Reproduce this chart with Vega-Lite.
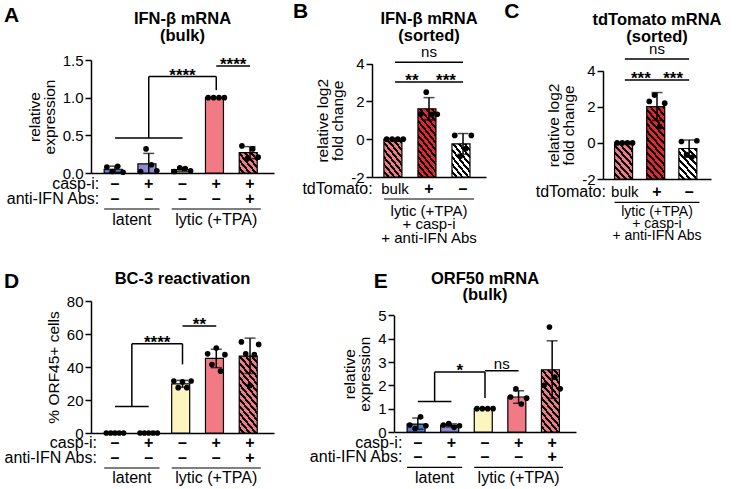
{
"$schema":"https://vega.github.io/schema/vega-lite/v6.json",
"background":"white",
"padding":{"left":3,"top":0,"right":0,"bottom":0},
"spacing":25,
"resolve":{"scale":{"xOffset":"independent","fill":"independent"}},
"datasets":{
"bars":[
{"p":"A","cond":"latent","m":0.05,"lo":0.009,"hi":0.091},
{"p":"A","cond":"latent+casp","m":0.12,"lo":0,"hi":0.26},
{"p":"A","cond":"lytic","m":0.045,"lo":0.02,"hi":0.07},
{"p":"A","cond":"lytic+casp","m":1.0,"lo":1.0,"hi":1.0},
{"p":"A","cond":"lytic+casp+IFNab","m":0.27,"lo":0.19,"hi":0.35},
{"p":"B","cond":"bulk","m":0,"lo":0,"hi":0},
{"p":"B","cond":"td+","m":1.61,"lo":1.02,"hi":2.2},
{"p":"B","cond":"td-","m":-0.25,"lo":-0.8,"hi":0.3},
{"p":"C","cond":"bulk","m":0,"lo":0,"hi":0},
{"p":"C","cond":"td+","m":2.01,"lo":1.24,"hi":2.79},
{"p":"C","cond":"td-","m":-0.31,"lo":-0.79,"hi":0.16},
{"p":"D","cond":"latent","m":0,"lo":0,"hi":0},
{"p":"D","cond":"latent+casp","m":0,"lo":0,"hi":0},
{"p":"D","cond":"lytic","m":29.8,"lo":27.7,"hi":31.9},
{"p":"D","cond":"lytic+casp","m":45.2,"lo":39.6,"hi":50.8},
{"p":"D","cond":"lytic+casp+IFNab","m":46.6,"lo":36.1,"hi":57.5},
{"p":"E","cond":"latent","m":0.34,"lo":0.12,"hi":0.6},
{"p":"E","cond":"latent+casp","m":0.28,"lo":0.22,"hi":0.35},
{"p":"E","cond":"lytic","m":1.0,"lo":1.0,"hi":1.0},
{"p":"E","cond":"lytic+casp","m":1.5,"lo":1.23,"hi":1.77},
{"p":"E","cond":"lytic+casp+IFNab","m":2.67,"lo":1.44,"hi":3.91}
],
"pts":[
{"p":"A","cond":"latent","r":1,"v":0.08},{"p":"A","cond":"latent","r":2,"v":0.02},{"p":"A","cond":"latent","r":3,"v":0.09},{"p":"A","cond":"latent","r":4,"v":0.01},
{"p":"A","cond":"latent+casp","r":1,"v":0.02},{"p":"A","cond":"latent+casp","r":2,"v":0.32},{"p":"A","cond":"latent+casp","r":3,"v":0.11},{"p":"A","cond":"latent+casp","r":4,"v":0.03},
{"p":"A","cond":"lytic","r":1,"v":0.02},{"p":"A","cond":"lytic","r":2,"v":0.07},{"p":"A","cond":"lytic","r":3,"v":0.06},{"p":"A","cond":"lytic","r":4,"v":0.03},
{"p":"A","cond":"lytic+casp","r":1,"v":1.0},{"p":"A","cond":"lytic+casp","r":2,"v":1.0},{"p":"A","cond":"lytic+casp","r":3,"v":1.0},{"p":"A","cond":"lytic+casp","r":4,"v":1.0},
{"p":"A","cond":"lytic+casp+IFNab","r":1,"v":0.36},{"p":"A","cond":"lytic+casp+IFNab","r":2,"v":0.19},{"p":"A","cond":"lytic+casp+IFNab","r":3,"v":0.32},{"p":"A","cond":"lytic+casp+IFNab","r":4,"v":0.21},
{"p":"B","cond":"bulk","r":1,"v":0},{"p":"B","cond":"bulk","r":2,"v":0},{"p":"B","cond":"bulk","r":3,"v":0},{"p":"B","cond":"bulk","r":4,"v":0},
{"p":"B","cond":"td+","r":1,"v":1.33},{"p":"B","cond":"td+","r":2,"v":2.49},{"p":"B","cond":"td+","r":3,"v":1.3},{"p":"B","cond":"td+","r":4,"v":1.32},
{"p":"B","cond":"td-","r":1,"v":0.2},{"p":"B","cond":"td-","r":2,"v":-0.9},{"p":"B","cond":"td-","r":3,"v":-0.5},{"p":"B","cond":"td-","r":4,"v":0.2},
{"p":"C","cond":"bulk","r":1,"v":0},{"p":"C","cond":"bulk","r":2,"v":0},{"p":"C","cond":"bulk","r":3,"v":0},{"p":"C","cond":"bulk","r":4,"v":0},
{"p":"C","cond":"td+","r":1,"v":2.3},{"p":"C","cond":"td+","r":2,"v":2.65},{"p":"C","cond":"td+","r":3,"v":0.9},{"p":"C","cond":"td+","r":4,"v":2.2},
{"p":"C","cond":"td-","r":1,"v":0.08},{"p":"C","cond":"td-","r":2,"v":-0.65},{"p":"C","cond":"td-","r":3,"v":-0.8},{"p":"C","cond":"td-","r":4,"v":0.12},
{"p":"D","cond":"latent","r":1,"v":0},{"p":"D","cond":"latent","r":2,"v":0},{"p":"D","cond":"latent","r":3,"v":0},{"p":"D","cond":"latent","r":4,"v":0},{"p":"D","cond":"latent","r":5,"v":0},
{"p":"D","cond":"latent+casp","r":1,"v":0},{"p":"D","cond":"latent+casp","r":2,"v":0},{"p":"D","cond":"latent+casp","r":3,"v":0},{"p":"D","cond":"latent+casp","r":4,"v":0},{"p":"D","cond":"latent+casp","r":5,"v":0},
{"p":"D","cond":"lytic","r":1,"v":31.5},{"p":"D","cond":"lytic","r":2,"v":27.5},{"p":"D","cond":"lytic","r":3,"v":31},{"p":"D","cond":"lytic","r":4,"v":27.5},{"p":"D","cond":"lytic","r":5,"v":31.5},
{"p":"D","cond":"lytic+casp","r":1,"v":48},{"p":"D","cond":"lytic+casp","r":2,"v":41.5},{"p":"D","cond":"lytic+casp","r":3,"v":51.5},{"p":"D","cond":"lytic+casp","r":4,"v":37.5},{"p":"D","cond":"lytic+casp","r":5,"v":47.5},
{"p":"D","cond":"lytic+casp+IFNab","r":1,"v":55.2},{"p":"D","cond":"lytic+casp+IFNab","r":2,"v":48},{"p":"D","cond":"lytic+casp+IFNab","r":3,"v":28.8},{"p":"D","cond":"lytic+casp+IFNab","r":4,"v":47.5},{"p":"D","cond":"lytic+casp+IFNab","r":5,"v":53.7},
{"p":"E","cond":"latent","r":1,"v":0.3},{"p":"E","cond":"latent","r":2,"v":0.15},{"p":"E","cond":"latent","r":3,"v":0.65},{"p":"E","cond":"latent","r":4,"v":0.27},
{"p":"E","cond":"latent+casp","r":1,"v":0.3},{"p":"E","cond":"latent+casp","r":2,"v":0.36},{"p":"E","cond":"latent+casp","r":3,"v":0.2},{"p":"E","cond":"latent+casp","r":4,"v":0.27},
{"p":"E","cond":"lytic","r":1,"v":1.0},{"p":"E","cond":"lytic","r":2,"v":1.0},{"p":"E","cond":"lytic","r":3,"v":1.0},{"p":"E","cond":"lytic","r":4,"v":1.0},
{"p":"E","cond":"lytic+casp","r":1,"v":1.5},{"p":"E","cond":"lytic+casp","r":2,"v":1.85},{"p":"E","cond":"lytic+casp","r":3,"v":1.2},{"p":"E","cond":"lytic+casp","r":4,"v":1.45},
{"p":"E","cond":"lytic+casp+IFNab","r":1,"v":2.0},{"p":"E","cond":"lytic+casp+IFNab","r":2,"v":4.5},{"p":"E","cond":"lytic+casp+IFNab","r":3,"v":2.35},{"p":"E","cond":"lytic+casp+IFNab","r":4,"v":1.85}
],
"sig":[
{"p":"A","k":"h","cond":"latent","cond2":"lytic","y":0.465},
{"p":"A","k":"h","cond":"latent+casp","cond2":"lytic+casp","y":1.28},
{"p":"A","k":"h","cond":"lytic+casp","cond2":"lytic+casp+IFNab","y":1.42},
{"p":"A","k":"v","cond":"latent+casp","y":0.465,"y2":1.28},
{"p":"A","k":"v","cond":"lytic+casp","y":1.1,"y2":1.28},
{"p":"B","k":"h","cond":"bulk","cond2":"td-","y":4.07},
{"p":"B","k":"h","cond":"bulk","cond2":"td+","y":3.03},
{"p":"B","k":"h","cond":"td+","cond2":"td-","y":3.03},
{"p":"C","k":"h","cond":"bulk","cond2":"td-","y":4.65},
{"p":"C","k":"h","cond":"bulk","cond2":"td+","y":3.48},
{"p":"C","k":"h","cond":"td+","cond2":"td-","y":3.48},
{"p":"D","k":"h","cond":"latent","cond2":"latent+casp","y":16.1},
{"p":"D","k":"h","cond":"lytic","cond2":"lytic+casp","y":64.8},
{"p":"D","k":"hh","cond":"latent","cond2":"lytic","y":54.1},
{"p":"D","k":"v","cond":"lytic","y":41.6,"y2":54.1},
{"p":"D","k":"vh","cond":"latent","y":16.1,"y2":54.1},
{"p":"E","k":"h","cond":"latent","cond2":"latent+casp","y":1.31},
{"p":"E","k":"h","cond":"lytic","cond2":"lytic+casp","y":2.63},
{"p":"E","k":"hh","cond":"latent","cond2":"lytic","y":2.57},
{"p":"E","k":"v","cond":"lytic","y":1.46,"y2":2.57},
{"p":"E","k":"vh","cond":"latent","y":1.31,"y2":2.57}
],
"st":[
{"p":"A","k":"sc","cond":"lytic","y":1.28,"s":"****"},
{"p":"A","k":"sh","cond":"lytic+casp","y":1.42,"s":"****"},
{"p":"B","k":"nc","cond":"td+","y":4.07,"s":"ns"},
{"p":"B","k":"sh","cond":"bulk","y":3.03,"s":"**"},
{"p":"B","k":"sh","cond":"td+","y":3.03,"s":"***"},
{"p":"C","k":"nc","cond":"td+","y":4.65,"s":"ns"},
{"p":"C","k":"sh","cond":"bulk","y":3.48,"s":"***"},
{"p":"C","k":"sh","cond":"td+","y":3.48,"s":"***"},
{"p":"D","k":"sq","cond":"latent+casp","y":54.1,"s":"****"},
{"p":"D","k":"sh","cond":"lytic","y":64.8,"s":"**"},
{"p":"E","k":"sq","cond":"latent+casp","y":2.57,"s":"*"},
{"p":"E","k":"nh","cond":"lytic","y":2.63,"s":"ns"}
],
"tbl":[
{"p":"A","cond":"latent","s":"–\n–"},{"p":"A","cond":"latent+casp","s":"+\n–"},{"p":"A","cond":"lytic","s":"–\n–"},{"p":"A","cond":"lytic+casp","s":"+\n–"},{"p":"A","cond":"lytic+casp+IFNab","s":"+\n+"},
{"p":"B","cond":"bulk","s":"bulk"},{"p":"B","cond":"td+","s":"+"},{"p":"B","cond":"td-","s":"–"},
{"p":"C","cond":"bulk","s":"bulk"},{"p":"C","cond":"td+","s":"+"},{"p":"C","cond":"td-","s":"–"},
{"p":"D","cond":"latent","s":"–\n–"},{"p":"D","cond":"latent+casp","s":"+\n–"},{"p":"D","cond":"lytic","s":"–\n–"},{"p":"D","cond":"lytic+casp","s":"+\n–"},{"p":"D","cond":"lytic+casp+IFNab","s":"+\n+"},
{"p":"E","cond":"latent","s":"–\n–"},{"p":"E","cond":"latent+casp","s":"+\n–"},{"p":"E","cond":"lytic","s":"–\n–"},{"p":"E","cond":"lytic+casp","s":"+\n–"},{"p":"E","cond":"lytic+casp+IFNab","s":"+\n+"}
],
"rl":[
{"p":"A","cond":"latent","s":"casp-i:\nanti-IFN Abs:"},
{"p":"B","cond":"bulk","s":"tdTomato:"},
{"p":"C","cond":"bulk","s":"tdTomato:"},
{"p":"D","cond":"latent","s":"casp-i:\nanti-IFN Abs:"},
{"p":"E","cond":"latent","s":"casp-i:\nanti-IFN Abs:"}
],
"grp":[
{"p":"A","k":"h","cond":"latent","cond2":"latent+casp","at":"latent","s":"latent"},
{"p":"A","k":"c","cond":"lytic","cond2":"lytic+casp+IFNab","at":"lytic+casp","s":"lytic (+TPA)"},
{"p":"B","k":"c","cond":"bulk","cond2":"td-","at":"td+","s":"lytic (+TPA)\n+ casp-i\n+ anti-IFN Abs"},
{"p":"C","k":"c","cond":"bulk","cond2":"td-","at":"td+","s":"lytic (+TPA)\n+ casp-i\n+ anti-IFN Abs"},
{"p":"D","k":"h","cond":"latent","cond2":"latent+casp","at":"latent","s":"latent"},
{"p":"D","k":"c","cond":"lytic","cond2":"lytic+casp+IFNab","at":"lytic+casp","s":"lytic (+TPA)"},
{"p":"E","k":"h","cond":"latent","cond2":"latent+casp","at":"latent","s":"latent"},
{"p":"E","k":"c","cond":"lytic","cond2":"lytic+casp+IFNab","at":"lytic+casp","s":"lytic (+TPA)"}
],
"ttl":[
{"p":"A","k":"L","cond":"latent","s":"A"},{"p":"A","k":"T","cond":"lytic","s":"IFN-β mRNA\n(bulk)"},
{"p":"B","k":"L","cond":"bulk","s":"B"},{"p":"B","k":"T","cond":"td+","s":"IFN-β mRNA\n(sorted)"},
{"p":"C","k":"L","cond":"bulk","s":"C"},{"p":"C","k":"T","cond":"td+","s":"tdTomato mRNA\n(sorted)"},
{"p":"D","k":"L","cond":"latent","s":"D"},{"p":"D","k":"T","cond":"lytic","s":"BC-3 reactivation"},
{"p":"E","k":"L","cond":"latent","s":"E"},{"p":"E","k":"T","cond":"lytic","s":"ORF50 mRNA\n(bulk)"}
]
},
"vconcat":[
{"hconcat":[
{"width":183,"height":113,"layer":[
{"data":{"name":"bars"},"transform":[{"filter":"datum.p=='A' && datum.m>0 && datum.cond!='lytic+casp+IFNab'"}],"mark":{"type":"bar","stroke":"#000","strokeWidth":1.2},
"encoding":{"x":{"field":"cond","type":"nominal","scale":{"domain":["latent","latent+casp","lytic","lytic+casp","lytic+casp+IFNab"],"paddingInner":0.36,"paddingOuter":0.39,"round":false},"axis":{"title":null,"labels":false,"ticks":false}},
"y":{"field":"m","type":"quantitative","scale":{"domain":[0,1.5],"nice":false,"zero":false},"axis":{"values":[0,0.5,1,1.5],"tickCount":20,"format":".1f","labelOverlap":false,"title":["relative","expression"]}},
"fill":{"field":"cond","type":"nominal","scale":{"domain":["latent","latent+casp","lytic","lytic+casp","lytic+casp+IFNab"],"range":["#5b79c7","#8f88d2","#fdf5c0","#f27a85","#f27a85"]},"legend":null}}},
{"data":{"name":"bars"},"transform":[{"filter":"datum.p=='A' && datum.cond=='lytic+casp+IFNab'"}],"mark":{"type":"bar","stroke":"#000","strokeWidth":1.2,"fill":{"gradient":"linear","x1":0,"y1":1,"x2":1.029,"y2":0.031,"stops":[
{"offset":0,"color":"#f07a86"},{"offset":0.0954,"color":"#f07a86"},{"offset":0.0954,"color":"#000"},{"offset":0.1716,"color":"#000"},{"offset":0.1716,"color":"#f07a86"},
{"offset":0.267,"color":"#f07a86"},{"offset":0.267,"color":"#000"},{"offset":0.3433,"color":"#000"},{"offset":0.3433,"color":"#f07a86"},
{"offset":0.4386,"color":"#f07a86"},{"offset":0.4386,"color":"#000"},{"offset":0.5149,"color":"#000"},{"offset":0.5149,"color":"#f07a86"},
{"offset":0.6103,"color":"#f07a86"},{"offset":0.6103,"color":"#000"},{"offset":0.6865,"color":"#000"},{"offset":0.6865,"color":"#f07a86"},
{"offset":0.7819,"color":"#f07a86"},{"offset":0.7819,"color":"#000"},{"offset":0.8582,"color":"#000"},{"offset":0.8582,"color":"#f07a86"},
{"offset":0.9535,"color":"#f07a86"},{"offset":0.9535,"color":"#000"},{"offset":1,"color":"#000"}]}},
"encoding":{"x":{"field":"cond","type":"nominal"},"y":{"field":"m","type":"quantitative"}}},
{"data":{"name":"bars"},"transform":[{"filter":"datum.p=='A' && datum.hi>datum.lo"}],"mark":{"type":"rule","color":"#000","strokeWidth":1.5},"encoding":{"x":{"field":"cond","type":"nominal"},"y":{"field":"lo","type":"quantitative"},"y2":{"field":"hi"}}},
{"data":{"name":"bars"},"transform":[{"filter":"datum.p=='A' && datum.hi>datum.lo"}],"mark":{"type":"tick","color":"#000","size":11,"thickness":1.5,"orient":"horizontal"},"encoding":{"x":{"field":"cond","type":"nominal"},"y":{"field":"hi","type":"quantitative"}}},
{"data":{"name":"bars"},"transform":[{"filter":"datum.p=='A' && datum.hi>datum.lo && datum.lo>0"}],"mark":{"type":"tick","color":"#000","size":11,"thickness":1.5,"orient":"horizontal"},"encoding":{"x":{"field":"cond","type":"nominal"},"y":{"field":"lo","type":"quantitative"}}},
{"data":{"name":"pts"},"transform":[{"filter":"datum.p=='A'"}],"mark":{"type":"circle","size":32,"color":"#000","opacity":1},"encoding":{"x":{"field":"cond","type":"nominal"},"xOffset":{"field":"r","type":"nominal"},"y":{"field":"v","type":"quantitative"}}},
{"data":{"name":"sig"},"transform":[{"filter":"datum.p=='A' && datum.k=='h'"}],"mark":{"type":"rule","color":"#000","strokeWidth":1.5},"encoding":{"x":{"field":"cond","type":"nominal"},"x2":{"field":"cond2"},"y":{"field":"y","type":"quantitative"}}},
{"data":{"name":"sig"},"transform":[{"filter":"datum.p=='A' && datum.k=='v'"}],"mark":{"type":"rule","color":"#000","strokeWidth":1.5},"encoding":{"x":{"field":"cond","type":"nominal"},"y":{"field":"y","type":"quantitative"},"y2":{"field":"y2"}}},
{"data":{"name":"st"},"transform":[{"filter":"datum.p=='A' && datum.k=='sc'"}],"mark":{"type":"text","fontSize":17,"fontWeight":"bold","baseline":"alphabetic","dy":4},"encoding":{"x":{"field":"cond","type":"nominal"},"y":{"field":"y","type":"quantitative"},"text":{"field":"s"}}},
{"data":{"name":"st"},"transform":[{"filter":"datum.p=='A' && datum.k=='sh'"}],"mark":{"type":"text","fontSize":17,"fontWeight":"bold","baseline":"alphabetic","dy":4,"dx":16.88},"encoding":{"x":{"field":"cond","type":"nominal"},"y":{"field":"y","type":"quantitative"},"text":{"field":"s"}}},
{"data":{"name":"tbl"},"transform":[{"filter":"datum.p=='A'"}],"mark":{"type":"text","fontSize":16,"fontWeight":"bold","baseline":"middle","lineBreak":"\n","lineHeight":15,"dy":11},"encoding":{"x":{"field":"cond","type":"nominal"},"y":{"datum":0},"text":{"field":"s"}}},
{"data":{"name":"rl"},"transform":[{"filter":"datum.p=='A'"}],"mark":{"type":"text","fontSize":16,"align":"right","baseline":"middle","lineBreak":"\n","lineHeight":15,"dy":11,"dx":-15.7},"encoding":{"x":{"field":"cond","type":"nominal"},"y":{"datum":0},"text":{"field":"s"}}},
{"data":{"name":"grp"},"transform":[{"filter":"datum.p=='A'"}],"mark":{"type":"rule","color":"#000","strokeWidth":1.2,"yOffset":36,"xOffset":-10.8,"x2Offset":10.8},"encoding":{"x":{"field":"cond","type":"nominal"},"x2":{"field":"cond2"},"y":{"datum":0}}},
{"data":{"name":"grp"},"transform":[{"filter":"datum.p=='A' && datum.k=='h'"}],"mark":{"type":"text","fontSize":16,"baseline":"middle","dy":47,"dx":16.88},"encoding":{"x":{"field":"at","type":"nominal"},"y":{"datum":0},"text":{"field":"s"}}},
{"data":{"name":"grp"},"transform":[{"filter":"datum.p=='A' && datum.k=='c'"}],"mark":{"type":"text","fontSize":16,"baseline":"middle","dy":47},"encoding":{"x":{"field":"at","type":"nominal"},"y":{"datum":0},"text":{"field":"s"}}},
{"data":{"name":"ttl"},"transform":[{"filter":"datum.p=='A' && datum.k=='L'"}],"mark":{"type":"text","fontSize":21,"fontWeight":"bold","align":"left","baseline":"alphabetic","dx":-111,"dy":-38.3},"encoding":{"x":{"field":"cond","type":"nominal"},"y":{"datum":1.5},"text":{"field":"s"}}},
{"data":{"name":"ttl"},"transform":[{"filter":"datum.p=='A' && datum.k=='T'"}],"mark":{"type":"text","fontSize":16.5,"fontWeight":"bold","baseline":"alphabetic","lineBreak":"\n","lineHeight":17,"dy":-36},"encoding":{"x":{"field":"cond","type":"nominal"},"y":{"datum":1.5},"text":{"field":"s"}}}
]},
{"width":114,"height":117,"layer":[
{"data":{"name":"bars"},"transform":[{"filter":"datum.p=='B' && datum.cond=='bulk'"}],"mark":{"type":"bar","stroke":"#000","strokeWidth":1.2,"fill":{"gradient":"linear","x1":0,"y1":1,"x2":0.693,"y2":-0.18,"stops":[
{"offset":0,"color":"#f07a86"},{"offset":0.0669,"color":"#f07a86"},{"offset":0.0669,"color":"#000"},{"offset":0.1204,"color":"#000"},{"offset":0.1204,"color":"#f07a86"},
{"offset":0.1873,"color":"#f07a86"},{"offset":0.1873,"color":"#000"},{"offset":0.2408,"color":"#000"},{"offset":0.2408,"color":"#f07a86"},
{"offset":0.3077,"color":"#f07a86"},{"offset":0.3077,"color":"#000"},{"offset":0.3613,"color":"#000"},{"offset":0.3613,"color":"#f07a86"},
{"offset":0.4282,"color":"#f07a86"},{"offset":0.4282,"color":"#000"},{"offset":0.4817,"color":"#000"},{"offset":0.4817,"color":"#f07a86"},
{"offset":0.5486,"color":"#f07a86"},{"offset":0.5486,"color":"#000"},{"offset":0.6021,"color":"#000"},{"offset":0.6021,"color":"#f07a86"},
{"offset":0.669,"color":"#f07a86"},{"offset":0.669,"color":"#000"},{"offset":0.7225,"color":"#000"},{"offset":0.7225,"color":"#f07a86"},
{"offset":0.7894,"color":"#f07a86"},{"offset":0.7894,"color":"#000"},{"offset":0.843,"color":"#000"},{"offset":0.843,"color":"#f07a86"},
{"offset":0.9098,"color":"#f07a86"},{"offset":0.9098,"color":"#000"},{"offset":0.9634,"color":"#000"},{"offset":0.9634,"color":"#f07a86"},{"offset":1,"color":"#f07a86"}]}},
"encoding":{"x":{"field":"cond","type":"nominal","scale":{"domain":["bulk","td+","td-"],"paddingInner":0.35,"paddingOuter":0.35,"round":false},"axis":{"title":null,"labels":false,"ticks":false}},
"y":{"field":"m","type":"quantitative","scale":{"domain":[-2,4],"nice":false,"zero":false,"range":[117,3.6]},"axis":{"values":[-2,0,2,4],"tickCount":20,"labelExpr":"'' + datum.value","labelOverlap":false,"title":["relative log2","fold change"]}},"y2":{"datum":-2}}},
{"data":{"name":"bars"},"transform":[{"filter":"datum.p=='B' && datum.cond=='td+'"}],"mark":{"type":"bar","stroke":"#000","strokeWidth":1.2,"fill":{"gradient":"linear","x1":0,"y1":1,"x2":0.39,"y2":-0.199,"stops":[
{"offset":0,"color":"#e5262c"},{"offset":0.0444,"color":"#e5262c"},{"offset":0.0444,"color":"#000"},{"offset":0.0799,"color":"#000"},{"offset":0.0799,"color":"#e5262c"},
{"offset":0.1243,"color":"#e5262c"},{"offset":0.1243,"color":"#000"},{"offset":0.1598,"color":"#000"},{"offset":0.1598,"color":"#e5262c"},
{"offset":0.2042,"color":"#e5262c"},{"offset":0.2042,"color":"#000"},{"offset":0.2397,"color":"#000"},{"offset":0.2397,"color":"#e5262c"},
{"offset":0.2841,"color":"#e5262c"},{"offset":0.2841,"color":"#000"},{"offset":0.3196,"color":"#000"},{"offset":0.3196,"color":"#e5262c"},
{"offset":0.364,"color":"#e5262c"},{"offset":0.364,"color":"#000"},{"offset":0.3995,"color":"#000"},{"offset":0.3995,"color":"#e5262c"},
{"offset":0.4439,"color":"#e5262c"},{"offset":0.4439,"color":"#000"},{"offset":0.4794,"color":"#000"},{"offset":0.4794,"color":"#e5262c"},
{"offset":0.5238,"color":"#e5262c"},{"offset":0.5238,"color":"#000"},{"offset":0.5593,"color":"#000"},{"offset":0.5593,"color":"#e5262c"},
{"offset":0.6037,"color":"#e5262c"},{"offset":0.6037,"color":"#000"},{"offset":0.6392,"color":"#000"},{"offset":0.6392,"color":"#e5262c"},
{"offset":0.6836,"color":"#e5262c"},{"offset":0.6836,"color":"#000"},{"offset":0.7191,"color":"#000"},{"offset":0.7191,"color":"#e5262c"},
{"offset":0.7635,"color":"#e5262c"},{"offset":0.7635,"color":"#000"},{"offset":0.799,"color":"#000"},{"offset":0.799,"color":"#e5262c"},
{"offset":0.8434,"color":"#e5262c"},{"offset":0.8434,"color":"#000"},{"offset":0.8789,"color":"#000"},{"offset":0.8789,"color":"#e5262c"},
{"offset":0.9233,"color":"#e5262c"},{"offset":0.9233,"color":"#000"},{"offset":0.9588,"color":"#000"},{"offset":0.9588,"color":"#e5262c"},{"offset":1,"color":"#e5262c"}]}},
"encoding":{"x":{"field":"cond","type":"nominal"},"y":{"field":"m","type":"quantitative"},"y2":{"datum":-2}}},
{"data":{"name":"bars"},"transform":[{"filter":"datum.p=='B' && datum.cond=='td-'"}],"mark":{"type":"bar","stroke":"#000","strokeWidth":1.2,"fill":{"gradient":"linear","x1":0,"y1":1,"x2":0.773,"y2":-0.152,"stops":[
{"offset":0,"color":"#fff"},{"offset":0.0726,"color":"#fff"},{"offset":0.0726,"color":"#000"},{"offset":0.1307,"color":"#000"},{"offset":0.1307,"color":"#fff"},
{"offset":0.2033,"color":"#fff"},{"offset":0.2033,"color":"#000"},{"offset":0.2614,"color":"#000"},{"offset":0.2614,"color":"#fff"},
{"offset":0.3341,"color":"#fff"},{"offset":0.3341,"color":"#000"},{"offset":0.3922,"color":"#000"},{"offset":0.3922,"color":"#fff"},
{"offset":0.4648,"color":"#fff"},{"offset":0.4648,"color":"#000"},{"offset":0.5229,"color":"#000"},{"offset":0.5229,"color":"#fff"},
{"offset":0.5955,"color":"#fff"},{"offset":0.5955,"color":"#000"},{"offset":0.6536,"color":"#000"},{"offset":0.6536,"color":"#fff"},
{"offset":0.7262,"color":"#fff"},{"offset":0.7262,"color":"#000"},{"offset":0.7843,"color":"#000"},{"offset":0.7843,"color":"#fff"},
{"offset":0.8569,"color":"#fff"},{"offset":0.8569,"color":"#000"},{"offset":0.915,"color":"#000"},{"offset":0.915,"color":"#fff"},
{"offset":0.9877,"color":"#fff"},{"offset":0.9877,"color":"#000"},{"offset":1,"color":"#000"}]}},
"encoding":{"x":{"field":"cond","type":"nominal"},"y":{"field":"m","type":"quantitative"},"y2":{"datum":-2}}},
{"data":{"name":"bars"},"transform":[{"filter":"datum.p=='B' && datum.hi>datum.lo"}],"mark":{"type":"rule","color":"#000","strokeWidth":1.5},"encoding":{"x":{"field":"cond","type":"nominal"},"y":{"field":"lo","type":"quantitative"},"y2":{"field":"hi"}}},
{"data":{"name":"bars"},"transform":[{"filter":"datum.p=='B' && datum.hi>datum.lo"}],"mark":{"type":"tick","color":"#000","size":11,"thickness":1.5,"orient":"horizontal"},"encoding":{"x":{"field":"cond","type":"nominal"},"y":{"field":"hi","type":"quantitative"}}},
{"data":{"name":"bars"},"transform":[{"filter":"datum.p=='B' && datum.hi>datum.lo"}],"mark":{"type":"tick","color":"#000","size":11,"thickness":1.5,"orient":"horizontal"},"encoding":{"x":{"field":"cond","type":"nominal"},"y":{"field":"lo","type":"quantitative"}}},
{"data":{"name":"pts"},"transform":[{"filter":"datum.p=='B'"}],"mark":{"type":"circle","size":32,"color":"#000","opacity":1},"encoding":{"x":{"field":"cond","type":"nominal"},"xOffset":{"field":"r","type":"nominal"},"y":{"field":"v","type":"quantitative"}}},
{"data":{"name":"sig"},"transform":[{"filter":"datum.p=='B' && datum.k=='h'"}],"mark":{"type":"rule","color":"#000","strokeWidth":1.5},"encoding":{"x":{"field":"cond","type":"nominal"},"x2":{"field":"cond2"},"y":{"field":"y","type":"quantitative"}}},
{"data":{"name":"st"},"transform":[{"filter":"datum.p=='B' && datum.k=='nc'"}],"mark":{"type":"text","fontSize":15,"baseline":"alphabetic","dy":-5.7},"encoding":{"x":{"field":"cond","type":"nominal"},"y":{"field":"y","type":"quantitative"},"text":{"field":"s"}}},
{"data":{"name":"st"},"transform":[{"filter":"datum.p=='B' && datum.k=='sh'"}],"mark":{"type":"text","fontSize":17,"fontWeight":"bold","baseline":"alphabetic","dy":4,"dx":17.01},"encoding":{"x":{"field":"cond","type":"nominal"},"y":{"field":"y","type":"quantitative"},"text":{"field":"s"}}},
{"data":{"name":"tbl"},"transform":[{"filter":"datum.p=='B' && datum.s!='bulk'"}],"mark":{"type":"text","fontSize":16,"fontWeight":"bold","baseline":"middle","dy":11.5},"encoding":{"x":{"field":"cond","type":"nominal"},"y":{"datum":-2},"text":{"field":"s"}}},
{"data":{"name":"tbl"},"transform":[{"filter":"datum.p=='B' && datum.s=='bulk'"}],"mark":{"type":"text","fontSize":15,"baseline":"middle","dy":11.5},"encoding":{"x":{"field":"cond","type":"nominal"},"y":{"datum":-2},"text":{"field":"s"}}},
{"data":{"name":"rl"},"transform":[{"filter":"datum.p=='B'"}],"mark":{"type":"text","fontSize":16,"align":"right","baseline":"middle","dy":11.5,"dx":-22.3},"encoding":{"x":{"field":"cond","type":"nominal"},"y":{"datum":-2},"text":{"field":"s"}}},
{"data":{"name":"grp"},"transform":[{"filter":"datum.p=='B'"}],"mark":{"type":"rule","color":"#000","strokeWidth":1.2,"yOffset":22,"xOffset":-11.06,"x2Offset":11.06},"encoding":{"x":{"field":"cond","type":"nominal"},"x2":{"field":"cond2"},"y":{"datum":-2}}},
{"data":{"name":"grp"},"transform":[{"filter":"datum.p=='B'"}],"mark":{"type":"text","fontSize":15,"baseline":"middle","lineBreak":"\n","lineHeight":13.75,"dy":33.5},"encoding":{"x":{"field":"at","type":"nominal"},"y":{"datum":-2},"text":{"field":"s"}}},
{"data":{"name":"ttl"},"transform":[{"filter":"datum.p=='B' && datum.k=='L'"}],"mark":{"type":"text","fontSize":21,"fontWeight":"bold","align":"left","baseline":"alphabetic","dx":-102,"dy":-45.9},"encoding":{"x":{"field":"cond","type":"nominal"},"y":{"datum":4},"text":{"field":"s"}}},
{"data":{"name":"ttl"},"transform":[{"filter":"datum.p=='B' && datum.k=='T'"}],"mark":{"type":"text","fontSize":16.5,"fontWeight":"bold","baseline":"alphabetic","lineBreak":"\n","lineHeight":17,"dy":-39.6},"encoding":{"x":{"field":"cond","type":"nominal"},"y":{"datum":4},"text":{"field":"s"}}}
]},
{"width":108,"height":119,"layer":[
{"data":{"name":"bars"},"transform":[{"filter":"datum.p=='C' && datum.cond=='bulk'"}],"mark":{"type":"bar","stroke":"#000","strokeWidth":1.2,"fill":{"gradient":"linear","x1":0,"y1":1,"x2":0.666,"y2":-0.187,"stops":[
{"offset":0,"color":"#f07a86"},{"offset":0.0699,"color":"#f07a86"},{"offset":0.0699,"color":"#000"},{"offset":0.1258,"color":"#000"},{"offset":0.1258,"color":"#f07a86"},
{"offset":0.1957,"color":"#f07a86"},{"offset":0.1957,"color":"#000"},{"offset":0.2516,"color":"#000"},{"offset":0.2516,"color":"#f07a86"},
{"offset":0.3215,"color":"#f07a86"},{"offset":0.3215,"color":"#000"},{"offset":0.3774,"color":"#000"},{"offset":0.3774,"color":"#f07a86"},
{"offset":0.4472,"color":"#f07a86"},{"offset":0.4472,"color":"#000"},{"offset":0.5031,"color":"#000"},{"offset":0.5031,"color":"#f07a86"},
{"offset":0.573,"color":"#f07a86"},{"offset":0.573,"color":"#000"},{"offset":0.6289,"color":"#000"},{"offset":0.6289,"color":"#f07a86"},
{"offset":0.6988,"color":"#f07a86"},{"offset":0.6988,"color":"#000"},{"offset":0.7547,"color":"#000"},{"offset":0.7547,"color":"#f07a86"},
{"offset":0.8246,"color":"#f07a86"},{"offset":0.8246,"color":"#000"},{"offset":0.8805,"color":"#000"},{"offset":0.8805,"color":"#f07a86"},
{"offset":0.9504,"color":"#f07a86"},{"offset":0.9504,"color":"#000"},{"offset":1,"color":"#000"}]}},
"encoding":{"x":{"field":"cond","type":"nominal","scale":{"domain":["bulk","td+","td-"],"paddingInner":0.36,"paddingOuter":0.36,"round":false},"axis":{"title":null,"labels":false,"ticks":false}},
"y":{"field":"m","type":"quantitative","scale":{"domain":[-2,4],"nice":false,"zero":false,"range":[119,10.7]},"axis":{"values":[-2,0,2,4],"tickCount":20,"labelExpr":"'' + datum.value","labelOverlap":false,"title":["relative log2","fold change"]}},"y2":{"datum":-2}}},
{"data":{"name":"bars"},"transform":[{"filter":"datum.p=='C' && datum.cond=='td+'"}],"mark":{"type":"bar","stroke":"#000","strokeWidth":1.2,"fill":{"gradient":"linear","x1":0,"y1":1,"x2":0.332,"y2":-0.187,"stops":[
{"offset":0,"color":"#e5262c"},{"offset":0.0425,"color":"#e5262c"},{"offset":0.0425,"color":"#000"},{"offset":0.0765,"color":"#000"},{"offset":0.0765,"color":"#e5262c"},
{"offset":0.119,"color":"#e5262c"},{"offset":0.119,"color":"#000"},{"offset":0.153,"color":"#000"},{"offset":0.153,"color":"#e5262c"},
{"offset":0.1956,"color":"#e5262c"},{"offset":0.1956,"color":"#000"},{"offset":0.2296,"color":"#000"},{"offset":0.2296,"color":"#e5262c"},
{"offset":0.2721,"color":"#e5262c"},{"offset":0.2721,"color":"#000"},{"offset":0.3061,"color":"#000"},{"offset":0.3061,"color":"#e5262c"},
{"offset":0.3486,"color":"#e5262c"},{"offset":0.3486,"color":"#000"},{"offset":0.3826,"color":"#000"},{"offset":0.3826,"color":"#e5262c"},
{"offset":0.4251,"color":"#e5262c"},{"offset":0.4251,"color":"#000"},{"offset":0.4591,"color":"#000"},{"offset":0.4591,"color":"#e5262c"},
{"offset":0.5016,"color":"#e5262c"},{"offset":0.5016,"color":"#000"},{"offset":0.5357,"color":"#000"},{"offset":0.5357,"color":"#e5262c"},
{"offset":0.5782,"color":"#e5262c"},{"offset":0.5782,"color":"#000"},{"offset":0.6122,"color":"#000"},{"offset":0.6122,"color":"#e5262c"},
{"offset":0.6547,"color":"#e5262c"},{"offset":0.6547,"color":"#000"},{"offset":0.6887,"color":"#000"},{"offset":0.6887,"color":"#e5262c"},
{"offset":0.7312,"color":"#e5262c"},{"offset":0.7312,"color":"#000"},{"offset":0.7652,"color":"#000"},{"offset":0.7652,"color":"#e5262c"},
{"offset":0.8077,"color":"#e5262c"},{"offset":0.8077,"color":"#000"},{"offset":0.8417,"color":"#000"},{"offset":0.8417,"color":"#e5262c"},
{"offset":0.8843,"color":"#e5262c"},{"offset":0.8843,"color":"#000"},{"offset":0.9183,"color":"#000"},{"offset":0.9183,"color":"#e5262c"},
{"offset":0.9608,"color":"#e5262c"},{"offset":0.9608,"color":"#000"},{"offset":0.9948,"color":"#000"},{"offset":0.9948,"color":"#e5262c"},{"offset":1,"color":"#e5262c"}]}},
"encoding":{"x":{"field":"cond","type":"nominal"},"y":{"field":"m","type":"quantitative"},"y2":{"datum":-2}}},
{"data":{"name":"bars"},"transform":[{"filter":"datum.p=='C' && datum.cond=='td-'"}],"mark":{"type":"bar","stroke":"#000","strokeWidth":1.2,"fill":{"gradient":"linear","x1":0,"y1":1,"x2":0.767,"y2":-0.155,"stops":[
{"offset":0,"color":"#fff"},{"offset":0.0776,"color":"#fff"},{"offset":0.0776,"color":"#000"},{"offset":0.1397,"color":"#000"},{"offset":0.1397,"color":"#fff"},
{"offset":0.2173,"color":"#fff"},{"offset":0.2173,"color":"#000"},{"offset":0.2793,"color":"#000"},{"offset":0.2793,"color":"#fff"},
{"offset":0.3569,"color":"#fff"},{"offset":0.3569,"color":"#000"},{"offset":0.419,"color":"#000"},{"offset":0.419,"color":"#fff"},
{"offset":0.4966,"color":"#fff"},{"offset":0.4966,"color":"#000"},{"offset":0.5587,"color":"#000"},{"offset":0.5587,"color":"#fff"},
{"offset":0.6363,"color":"#fff"},{"offset":0.6363,"color":"#000"},{"offset":0.6984,"color":"#000"},{"offset":0.6984,"color":"#fff"},
{"offset":0.7759,"color":"#fff"},{"offset":0.7759,"color":"#000"},{"offset":0.838,"color":"#000"},{"offset":0.838,"color":"#fff"},
{"offset":0.9156,"color":"#fff"},{"offset":0.9156,"color":"#000"},{"offset":0.9777,"color":"#000"},{"offset":0.9777,"color":"#fff"},{"offset":1,"color":"#fff"}]}},
"encoding":{"x":{"field":"cond","type":"nominal"},"y":{"field":"m","type":"quantitative"},"y2":{"datum":-2}}},
{"data":{"name":"bars"},"transform":[{"filter":"datum.p=='C' && datum.hi>datum.lo"}],"mark":{"type":"rule","color":"#000","strokeWidth":1.5},"encoding":{"x":{"field":"cond","type":"nominal"},"y":{"field":"lo","type":"quantitative"},"y2":{"field":"hi"}}},
{"data":{"name":"bars"},"transform":[{"filter":"datum.p=='C' && datum.hi>datum.lo"}],"mark":{"type":"tick","color":"#000","size":11,"thickness":1.5,"orient":"horizontal"},"encoding":{"x":{"field":"cond","type":"nominal"},"y":{"field":"hi","type":"quantitative"}}},
{"data":{"name":"bars"},"transform":[{"filter":"datum.p=='C' && datum.hi>datum.lo"}],"mark":{"type":"tick","color":"#000","size":11,"thickness":1.5,"orient":"horizontal"},"encoding":{"x":{"field":"cond","type":"nominal"},"y":{"field":"lo","type":"quantitative"}}},
{"data":{"name":"pts"},"transform":[{"filter":"datum.p=='C'"}],"mark":{"type":"circle","size":32,"color":"#000","opacity":1},"encoding":{"x":{"field":"cond","type":"nominal"},"xOffset":{"field":"r","type":"nominal"},"y":{"field":"v","type":"quantitative"}}},
{"data":{"name":"sig"},"transform":[{"filter":"datum.p=='C' && datum.k=='h'"}],"mark":{"type":"rule","color":"#000","strokeWidth":1.5},"encoding":{"x":{"field":"cond","type":"nominal"},"x2":{"field":"cond2"},"y":{"field":"y","type":"quantitative"}}},
{"data":{"name":"st"},"transform":[{"filter":"datum.p=='C' && datum.k=='nc'"}],"mark":{"type":"text","fontSize":15,"baseline":"alphabetic","dy":-5},"encoding":{"x":{"field":"cond","type":"nominal"},"y":{"field":"y","type":"quantitative"},"text":{"field":"s"}}},
{"data":{"name":"st"},"transform":[{"filter":"datum.p=='C' && datum.k=='sh'"}],"mark":{"type":"text","fontSize":17,"fontWeight":"bold","baseline":"alphabetic","dy":4,"dx":16.07},"encoding":{"x":{"field":"cond","type":"nominal"},"y":{"field":"y","type":"quantitative"},"text":{"field":"s"}}},
{"data":{"name":"tbl"},"transform":[{"filter":"datum.p=='C' && datum.s!='bulk'"}],"mark":{"type":"text","fontSize":16,"fontWeight":"bold","baseline":"middle","dy":12.7},"encoding":{"x":{"field":"cond","type":"nominal"},"y":{"datum":-2},"text":{"field":"s"}}},
{"data":{"name":"tbl"},"transform":[{"filter":"datum.p=='C' && datum.s=='bulk'"}],"mark":{"type":"text","fontSize":15,"baseline":"middle","dy":12.7},"encoding":{"x":{"field":"cond","type":"nominal"},"y":{"datum":-2},"text":{"field":"s"}}},
{"data":{"name":"rl"},"transform":[{"filter":"datum.p=='C'"}],"mark":{"type":"text","fontSize":16,"align":"right","baseline":"middle","dy":12.7,"dx":-18.9},"encoding":{"x":{"field":"cond","type":"nominal"},"y":{"datum":-2},"text":{"field":"s"}}},
{"data":{"name":"grp"},"transform":[{"filter":"datum.p=='C'"}],"mark":{"type":"rule","color":"#000","strokeWidth":1.2,"yOffset":23.4,"xOffset":-10.29,"x2Offset":10.29},"encoding":{"x":{"field":"cond","type":"nominal"},"x2":{"field":"cond2"},"y":{"datum":-2}}},
{"data":{"name":"grp"},"transform":[{"filter":"datum.p=='C'"}],"mark":{"type":"text","fontSize":14,"baseline":"middle","lineBreak":"\n","lineHeight":12,"dy":33.4},"encoding":{"x":{"field":"at","type":"nominal"},"y":{"datum":-2},"text":{"field":"s"}}},
{"data":{"name":"ttl"},"transform":[{"filter":"datum.p=='C' && datum.k=='L'"}],"mark":{"type":"text","fontSize":21,"fontWeight":"bold","align":"left","baseline":"alphabetic","dx":-120.6,"dy":-53},"encoding":{"x":{"field":"cond","type":"nominal"},"y":{"datum":4},"text":{"field":"s"}}},
{"data":{"name":"ttl"},"transform":[{"filter":"datum.p=='C' && datum.k=='T'"}],"mark":{"type":"text","fontSize":16.5,"fontWeight":"bold","baseline":"alphabetic","lineBreak":"\n","lineHeight":17,"dy":-45.7},"encoding":{"x":{"field":"cond","type":"nominal"},"y":{"datum":4},"text":{"field":"s"}}}
]}
],"spacing":18,"resolve":{"scale":{"xOffset":"independent","fill":"independent"}}},
{"hconcat":[
{"width":183,"height":132,"layer":[
{"data":{"name":"bars"},"transform":[{"filter":"datum.p=='D' && datum.m>0 && datum.cond!='lytic+casp+IFNab'"}],"mark":{"type":"bar","stroke":"#000","strokeWidth":1.2},
"encoding":{"x":{"field":"cond","type":"nominal","scale":{"domain":["latent","latent+casp","lytic","lytic+casp","lytic+casp+IFNab"],"paddingInner":0.36,"paddingOuter":0.39,"round":false},"axis":{"title":null,"labels":false,"ticks":false}},
"y":{"field":"m","type":"quantitative","scale":{"domain":[0,80],"nice":false,"zero":false},"axis":{"values":[0,20,40,60,80],"tickCount":20,"labelExpr":"'' + datum.value","labelOverlap":false,"title":"% ORF45+ cells"}},
"fill":{"field":"cond","type":"nominal","scale":{"domain":["latent","latent+casp","lytic","lytic+casp","lytic+casp+IFNab"],"range":["#5b79c7","#8f88d2","#fdf5c0","#f27a85","#f27a85"]},"legend":null}}},
{"data":{"name":"bars"},"transform":[{"filter":"datum.p=='D' && datum.cond=='lytic+casp+IFNab'"}],"mark":{"type":"bar","stroke":"#000","strokeWidth":1.2,"fill":{"gradient":"linear","x1":0,"y1":1,"x2":0.334,"y2":-0.187,"stops":[
{"offset":0,"color":"#f07a86"},{"offset":0.0406,"color":"#f07a86"},{"offset":0.0406,"color":"#000"},{"offset":0.0731,"color":"#000"},{"offset":0.0731,"color":"#f07a86"},
{"offset":0.1137,"color":"#f07a86"},{"offset":0.1137,"color":"#000"},{"offset":0.1462,"color":"#000"},{"offset":0.1462,"color":"#f07a86"},
{"offset":0.1868,"color":"#f07a86"},{"offset":0.1868,"color":"#000"},{"offset":0.2193,"color":"#000"},{"offset":0.2193,"color":"#f07a86"},
{"offset":0.2599,"color":"#f07a86"},{"offset":0.2599,"color":"#000"},{"offset":0.2924,"color":"#000"},{"offset":0.2924,"color":"#f07a86"},
{"offset":0.333,"color":"#f07a86"},{"offset":0.333,"color":"#000"},{"offset":0.3655,"color":"#000"},{"offset":0.3655,"color":"#f07a86"},
{"offset":0.4061,"color":"#f07a86"},{"offset":0.4061,"color":"#000"},{"offset":0.4386,"color":"#000"},{"offset":0.4386,"color":"#f07a86"},
{"offset":0.4792,"color":"#f07a86"},{"offset":0.4792,"color":"#000"},{"offset":0.5117,"color":"#000"},{"offset":0.5117,"color":"#f07a86"},
{"offset":0.5523,"color":"#f07a86"},{"offset":0.5523,"color":"#000"},{"offset":0.5848,"color":"#000"},{"offset":0.5848,"color":"#f07a86"},
{"offset":0.6254,"color":"#f07a86"},{"offset":0.6254,"color":"#000"},{"offset":0.6579,"color":"#000"},{"offset":0.6579,"color":"#f07a86"},
{"offset":0.6985,"color":"#f07a86"},{"offset":0.6985,"color":"#000"},{"offset":0.731,"color":"#000"},{"offset":0.731,"color":"#f07a86"},
{"offset":0.7716,"color":"#f07a86"},{"offset":0.7716,"color":"#000"},{"offset":0.8041,"color":"#000"},{"offset":0.8041,"color":"#f07a86"},
{"offset":0.8447,"color":"#f07a86"},{"offset":0.8447,"color":"#000"},{"offset":0.8772,"color":"#000"},{"offset":0.8772,"color":"#f07a86"},
{"offset":0.9178,"color":"#f07a86"},{"offset":0.9178,"color":"#000"},{"offset":0.9503,"color":"#000"},{"offset":0.9503,"color":"#f07a86"},
{"offset":0.9909,"color":"#f07a86"},{"offset":0.9909,"color":"#000"},{"offset":1,"color":"#000"}]}},
"encoding":{"x":{"field":"cond","type":"nominal"},"y":{"field":"m","type":"quantitative"}}},
{"data":{"name":"bars"},"transform":[{"filter":"datum.p=='D' && datum.hi>datum.lo"}],"mark":{"type":"rule","color":"#000","strokeWidth":1.5},"encoding":{"x":{"field":"cond","type":"nominal"},"y":{"field":"lo","type":"quantitative"},"y2":{"field":"hi"}}},
{"data":{"name":"bars"},"transform":[{"filter":"datum.p=='D' && datum.hi>datum.lo"}],"mark":{"type":"tick","color":"#000","size":11,"thickness":1.5,"orient":"horizontal"},"encoding":{"x":{"field":"cond","type":"nominal"},"y":{"field":"hi","type":"quantitative"}}},
{"data":{"name":"bars"},"transform":[{"filter":"datum.p=='D' && datum.hi>datum.lo"}],"mark":{"type":"tick","color":"#000","size":11,"thickness":1.5,"orient":"horizontal"},"encoding":{"x":{"field":"cond","type":"nominal"},"y":{"field":"lo","type":"quantitative"}}},
{"data":{"name":"pts"},"transform":[{"filter":"datum.p=='D'"}],"mark":{"type":"circle","size":32,"color":"#000","opacity":1},"encoding":{"x":{"field":"cond","type":"nominal"},"xOffset":{"field":"r","type":"nominal"},"y":{"field":"v","type":"quantitative"}}},
{"data":{"name":"sig"},"transform":[{"filter":"datum.p=='D' && datum.k=='h'"}],"mark":{"type":"rule","color":"#000","strokeWidth":1.5},"encoding":{"x":{"field":"cond","type":"nominal"},"x2":{"field":"cond2"},"y":{"field":"y","type":"quantitative"}}},
{"data":{"name":"sig"},"transform":[{"filter":"datum.p=='D' && datum.k=='hh'"}],"mark":{"type":"rule","color":"#000","strokeWidth":1.5,"xOffset":16.88},"encoding":{"x":{"field":"cond","type":"nominal"},"x2":{"field":"cond2"},"y":{"field":"y","type":"quantitative"}}},
{"data":{"name":"sig"},"transform":[{"filter":"datum.p=='D' && datum.k=='v'"}],"mark":{"type":"rule","color":"#000","strokeWidth":1.5},"encoding":{"x":{"field":"cond","type":"nominal"},"y":{"field":"y","type":"quantitative"},"y2":{"field":"y2"}}},
{"data":{"name":"sig"},"transform":[{"filter":"datum.p=='D' && datum.k=='vh'"}],"mark":{"type":"rule","color":"#000","strokeWidth":1.5,"xOffset":16.88},"encoding":{"x":{"field":"cond","type":"nominal"},"y":{"field":"y","type":"quantitative"},"y2":{"field":"y2"}}},
{"data":{"name":"st"},"transform":[{"filter":"datum.p=='D' && datum.k=='sq'"}],"mark":{"type":"text","fontSize":17,"fontWeight":"bold","baseline":"alphabetic","dy":4,"dx":8.44},"encoding":{"x":{"field":"cond","type":"nominal"},"y":{"field":"y","type":"quantitative"},"text":{"field":"s"}}},
{"data":{"name":"st"},"transform":[{"filter":"datum.p=='D' && datum.k=='sh'"}],"mark":{"type":"text","fontSize":17,"fontWeight":"bold","baseline":"alphabetic","dy":4,"dx":16.88},"encoding":{"x":{"field":"cond","type":"nominal"},"y":{"field":"y","type":"quantitative"},"text":{"field":"s"}}},
{"data":{"name":"tbl"},"transform":[{"filter":"datum.p=='D'"}],"mark":{"type":"text","fontSize":16,"fontWeight":"bold","baseline":"middle","lineBreak":"\n","lineHeight":15,"dy":10},"encoding":{"x":{"field":"cond","type":"nominal"},"y":{"datum":0},"text":{"field":"s"}}},
{"data":{"name":"rl"},"transform":[{"filter":"datum.p=='D'"}],"mark":{"type":"text","fontSize":16,"align":"right","baseline":"middle","lineBreak":"\n","lineHeight":15,"dy":10,"dx":-18},"encoding":{"x":{"field":"cond","type":"nominal"},"y":{"datum":0},"text":{"field":"s"}}},
{"data":{"name":"grp"},"transform":[{"filter":"datum.p=='D'"}],"mark":{"type":"rule","color":"#000","strokeWidth":1.2,"yOffset":35,"xOffset":-10.8,"x2Offset":10.8},"encoding":{"x":{"field":"cond","type":"nominal"},"x2":{"field":"cond2"},"y":{"datum":0}}},
{"data":{"name":"grp"},"transform":[{"filter":"datum.p=='D' && datum.k=='h'"}],"mark":{"type":"text","fontSize":16,"baseline":"middle","dy":45,"dx":16.88},"encoding":{"x":{"field":"at","type":"nominal"},"y":{"datum":0},"text":{"field":"s"}}},
{"data":{"name":"grp"},"transform":[{"filter":"datum.p=='D' && datum.k=='c'"}],"mark":{"type":"text","fontSize":16,"baseline":"middle","dy":45},"encoding":{"x":{"field":"at","type":"nominal"},"y":{"datum":0},"text":{"field":"s"}}},
{"data":{"name":"ttl"},"transform":[{"filter":"datum.p=='D' && datum.k=='L'"}],"mark":{"type":"text","fontSize":21,"fontWeight":"bold","align":"left","baseline":"alphabetic","dx":-111,"dy":-13},"encoding":{"x":{"field":"cond","type":"nominal"},"y":{"datum":80},"text":{"field":"s"}}},
{"data":{"name":"ttl"},"transform":[{"filter":"datum.p=='D' && datum.k=='T'"}],"mark":{"type":"text","fontSize":16.5,"fontWeight":"bold","baseline":"alphabetic","dy":-17},"encoding":{"x":{"field":"cond","type":"nominal"},"y":{"datum":80},"text":{"field":"s"}}}
]},
{"width":182,"height":131,"layer":[
{"data":{"name":"bars"},"transform":[{"filter":"datum.p=='E' && datum.m>0 && datum.cond!='lytic+casp+IFNab'"}],"mark":{"type":"bar","stroke":"#000","strokeWidth":1.2},
"encoding":{"x":{"field":"cond","type":"nominal","scale":{"domain":["latent","latent+casp","lytic","lytic+casp","lytic+casp+IFNab"],"paddingInner":0.36,"paddingOuter":0.39,"round":false},"axis":{"title":null,"labels":false,"ticks":false}},
"y":{"field":"m","type":"quantitative","scale":{"domain":[0,5],"nice":false,"zero":false,"range":[131,14.4]},"axis":{"values":[0,1,2,3,4,5],"tickCount":20,"labelExpr":"'' + datum.value","labelOverlap":false,"title":["relative","expression"]}},
"fill":{"field":"cond","type":"nominal","scale":{"domain":["latent","latent+casp","lytic","lytic+casp","lytic+casp+IFNab"],"range":["#5b79c7","#8f88d2","#fdf5c0","#f27a85","#f27a85"]},"legend":null}}},
{"data":{"name":"bars"},"transform":[{"filter":"datum.p=='E' && datum.cond=='lytic+casp+IFNab'"}],"mark":{"type":"bar","stroke":"#000","strokeWidth":1.2,"fill":{"gradient":"linear","x1":0,"y1":1,"x2":0.413,"y2":-0.202,"stops":[
{"offset":0,"color":"#f07a86"},{"offset":0.0476,"color":"#f07a86"},{"offset":0.0476,"color":"#000"},{"offset":0.0856,"color":"#000"},{"offset":0.0856,"color":"#f07a86"},
{"offset":0.1332,"color":"#f07a86"},{"offset":0.1332,"color":"#000"},{"offset":0.1712,"color":"#000"},{"offset":0.1712,"color":"#f07a86"},
{"offset":0.2188,"color":"#f07a86"},{"offset":0.2188,"color":"#000"},{"offset":0.2569,"color":"#000"},{"offset":0.2569,"color":"#f07a86"},
{"offset":0.3044,"color":"#f07a86"},{"offset":0.3044,"color":"#000"},{"offset":0.3425,"color":"#000"},{"offset":0.3425,"color":"#f07a86"},
{"offset":0.3901,"color":"#f07a86"},{"offset":0.3901,"color":"#000"},{"offset":0.4281,"color":"#000"},{"offset":0.4281,"color":"#f07a86"},
{"offset":0.4757,"color":"#f07a86"},{"offset":0.4757,"color":"#000"},{"offset":0.5137,"color":"#000"},{"offset":0.5137,"color":"#f07a86"},
{"offset":0.5613,"color":"#f07a86"},{"offset":0.5613,"color":"#000"},{"offset":0.5994,"color":"#000"},{"offset":0.5994,"color":"#f07a86"},
{"offset":0.6469,"color":"#f07a86"},{"offset":0.6469,"color":"#000"},{"offset":0.685,"color":"#000"},{"offset":0.685,"color":"#f07a86"},
{"offset":0.7326,"color":"#f07a86"},{"offset":0.7326,"color":"#000"},{"offset":0.7706,"color":"#000"},{"offset":0.7706,"color":"#f07a86"},
{"offset":0.8182,"color":"#f07a86"},{"offset":0.8182,"color":"#000"},{"offset":0.8562,"color":"#000"},{"offset":0.8562,"color":"#f07a86"},
{"offset":0.9038,"color":"#f07a86"},{"offset":0.9038,"color":"#000"},{"offset":0.9418,"color":"#000"},{"offset":0.9418,"color":"#f07a86"},
{"offset":0.9894,"color":"#f07a86"},{"offset":0.9894,"color":"#000"},{"offset":1,"color":"#000"}]}},
"encoding":{"x":{"field":"cond","type":"nominal"},"y":{"field":"m","type":"quantitative"}}},
{"data":{"name":"bars"},"transform":[{"filter":"datum.p=='E' && datum.hi>datum.lo"}],"mark":{"type":"rule","color":"#000","strokeWidth":1.5},"encoding":{"x":{"field":"cond","type":"nominal"},"y":{"field":"lo","type":"quantitative"},"y2":{"field":"hi"}}},
{"data":{"name":"bars"},"transform":[{"filter":"datum.p=='E' && datum.hi>datum.lo"}],"mark":{"type":"tick","color":"#000","size":11,"thickness":1.5,"orient":"horizontal"},"encoding":{"x":{"field":"cond","type":"nominal"},"y":{"field":"hi","type":"quantitative"}}},
{"data":{"name":"bars"},"transform":[{"filter":"datum.p=='E' && datum.hi>datum.lo"}],"mark":{"type":"tick","color":"#000","size":11,"thickness":1.5,"orient":"horizontal"},"encoding":{"x":{"field":"cond","type":"nominal"},"y":{"field":"lo","type":"quantitative"}}},
{"data":{"name":"pts"},"transform":[{"filter":"datum.p=='E'"}],"mark":{"type":"circle","size":32,"color":"#000","opacity":1},"encoding":{"x":{"field":"cond","type":"nominal"},"xOffset":{"field":"r","type":"nominal"},"y":{"field":"v","type":"quantitative"}}},
{"data":{"name":"sig"},"transform":[{"filter":"datum.p=='E' && datum.k=='h'"}],"mark":{"type":"rule","color":"#000","strokeWidth":1.5},"encoding":{"x":{"field":"cond","type":"nominal"},"x2":{"field":"cond2"},"y":{"field":"y","type":"quantitative"}}},
{"data":{"name":"sig"},"transform":[{"filter":"datum.p=='E' && datum.k=='hh'"}],"mark":{"type":"rule","color":"#000","strokeWidth":1.5,"xOffset":16.79},"encoding":{"x":{"field":"cond","type":"nominal"},"x2":{"field":"cond2"},"y":{"field":"y","type":"quantitative"}}},
{"data":{"name":"sig"},"transform":[{"filter":"datum.p=='E' && datum.k=='v'"}],"mark":{"type":"rule","color":"#000","strokeWidth":1.5},"encoding":{"x":{"field":"cond","type":"nominal"},"y":{"field":"y","type":"quantitative"},"y2":{"field":"y2"}}},
{"data":{"name":"sig"},"transform":[{"filter":"datum.p=='E' && datum.k=='vh'"}],"mark":{"type":"rule","color":"#000","strokeWidth":1.5,"xOffset":16.79},"encoding":{"x":{"field":"cond","type":"nominal"},"y":{"field":"y","type":"quantitative"},"y2":{"field":"y2"}}},
{"data":{"name":"st"},"transform":[{"filter":"datum.p=='E' && datum.k=='sq'"}],"mark":{"type":"text","fontSize":17,"fontWeight":"bold","baseline":"alphabetic","dy":4,"dx":8.4},"encoding":{"x":{"field":"cond","type":"nominal"},"y":{"field":"y","type":"quantitative"},"text":{"field":"s"}}},
{"data":{"name":"st"},"transform":[{"filter":"datum.p=='E' && datum.k=='nh'"}],"mark":{"type":"text","fontSize":15,"baseline":"alphabetic","dy":-1.5,"dx":16.79},"encoding":{"x":{"field":"cond","type":"nominal"},"y":{"field":"y","type":"quantitative"},"text":{"field":"s"}}},
{"data":{"name":"tbl"},"transform":[{"filter":"datum.p=='E'"}],"mark":{"type":"text","fontSize":16,"fontWeight":"bold","baseline":"middle","lineBreak":"\n","lineHeight":14,"dy":10.7},"encoding":{"x":{"field":"cond","type":"nominal"},"y":{"datum":0},"text":{"field":"s"}}},
{"data":{"name":"rl"},"transform":[{"filter":"datum.p=='E'"}],"mark":{"type":"text","fontSize":16,"align":"right","baseline":"middle","lineBreak":"\n","lineHeight":14,"dy":10.7,"dx":-15.5},"encoding":{"x":{"field":"cond","type":"nominal"},"y":{"datum":0},"text":{"field":"s"}}},
{"data":{"name":"grp"},"transform":[{"filter":"datum.p=='E'"}],"mark":{"type":"rule","color":"#000","strokeWidth":1.2,"yOffset":35.4,"xOffset":-10.75,"x2Offset":10.75},"encoding":{"x":{"field":"cond","type":"nominal"},"x2":{"field":"cond2"},"y":{"datum":0}}},
{"data":{"name":"grp"},"transform":[{"filter":"datum.p=='E' && datum.k=='h'"}],"mark":{"type":"text","fontSize":16,"baseline":"middle","dy":46,"dx":16.79},"encoding":{"x":{"field":"at","type":"nominal"},"y":{"datum":0},"text":{"field":"s"}}},
{"data":{"name":"grp"},"transform":[{"filter":"datum.p=='E' && datum.k=='c'"}],"mark":{"type":"text","fontSize":16,"baseline":"middle","dy":46},"encoding":{"x":{"field":"at","type":"nominal"},"y":{"datum":0},"text":{"field":"s"}}},
{"data":{"name":"ttl"},"transform":[{"filter":"datum.p=='E' && datum.k=='L'"}],"mark":{"type":"text","fontSize":21,"fontWeight":"bold","align":"left","baseline":"alphabetic","dx":-44.2,"dy":-27.4},"encoding":{"x":{"field":"cond","type":"nominal"},"y":{"datum":5},"text":{"field":"s"}}},
{"data":{"name":"ttl"},"transform":[{"filter":"datum.p=='E' && datum.k=='T'"}],"mark":{"type":"text","fontSize":16.5,"fontWeight":"bold","baseline":"alphabetic","lineBreak":"\n","lineHeight":16,"dy":-31.4},"encoding":{"x":{"field":"cond","type":"nominal"},"y":{"datum":5},"text":{"field":"s"}}}
]}
],"spacing":34,"resolve":{"scale":{"xOffset":"independent","fill":"independent"}}}
],
"config":{
"font":"Liberation Sans",
"view":{"stroke":null},
"axis":{"domainColor":"#000","domainWidth":1.5,"tickColor":"#000","tickWidth":1.5,"tickSize":6,"labelColor":"#000","labelFontSize":15,"labelPadding":2,"labelOverlap":false,"titleColor":"#000","titleFontSize":15.5,"titleFontWeight":"normal","titlePadding":5,"titleLineHeight":15,"grid":false},
"text":{"color":"#000"}
}
}
